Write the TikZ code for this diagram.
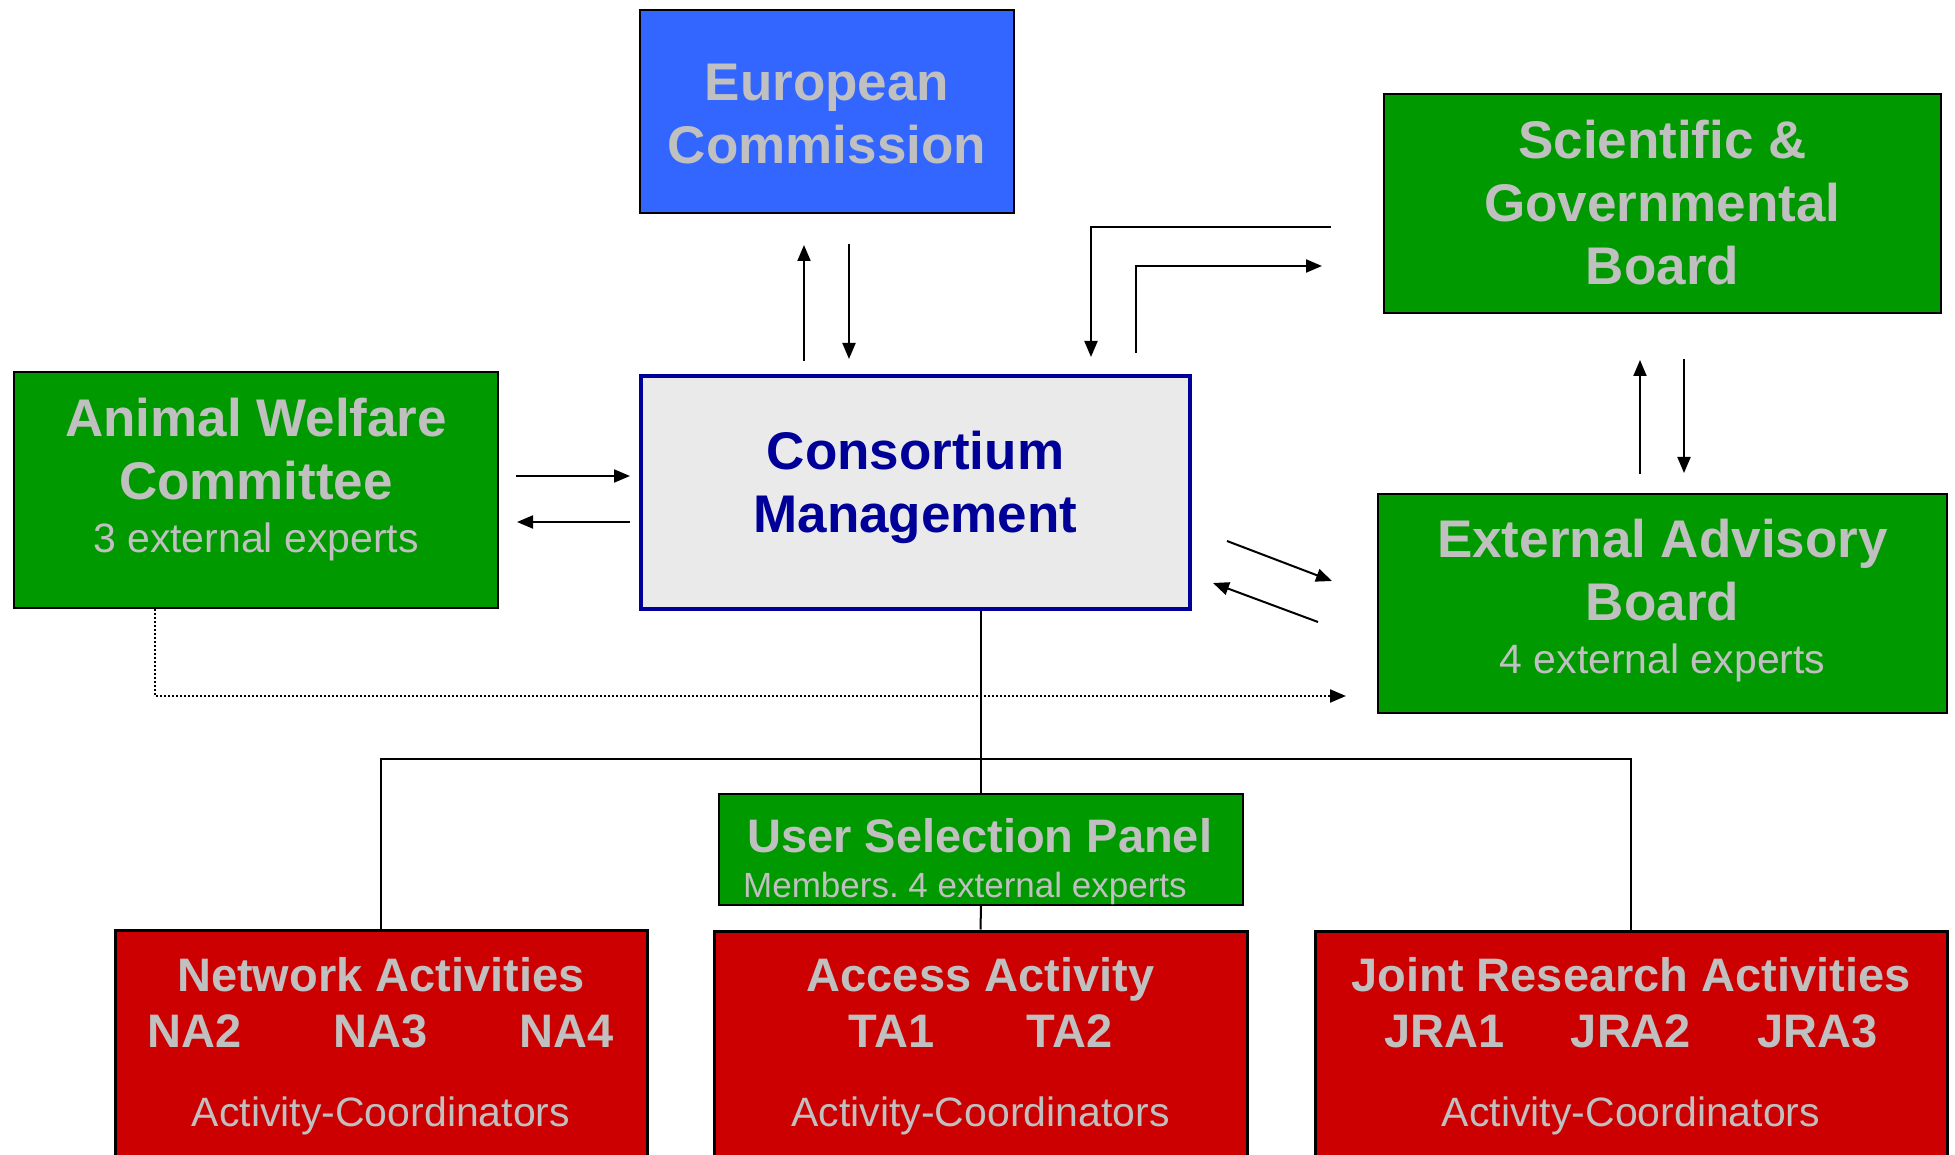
\documentclass[tikz,border=0pt]{standalone}
\usepackage{fontspec}
\setmainfont{Liberation Sans}
\usetikzlibrary{arrows.meta,calc}

\definecolor{labelgray}{HTML}{C0C0C0}
\definecolor{ecblue}{HTML}{3366FF}
\definecolor{boardgreen}{HTML}{009900}
\definecolor{actred}{HTML}{CC0000}
\definecolor{cmfill}{HTML}{EAEAEA}
\definecolor{cmblue}{HTML}{000099}

\begin{document}
\begin{tikzpicture}[x=1pt,y=-1pt,
  box/.style={draw=black,line width=2pt,inner sep=0pt},
  txt/.style={anchor=north,inner sep=0pt,align=center,text=labelgray,
    font=\fontsize{53}{63}\selectfont\bfseries},
  acttxt/.style={txt,font=\fontsize{47}{56}\selectfont\bfseries},
  flow/.style={line width=2pt,-{Triangle[length=16pt,width=13pt]}},
  dotflow/.style={flow,dash pattern=on 2pt off 2pt},
  link/.style={line width=2pt}]

\clip (0,0) rectangle (1955,1155);
\fill[white] (0,0) rectangle (1955,1155);

\node[box,fill=ecblue,minimum width=374pt,minimum height=203pt] (ec) at (827,111.5) {};
\node[txt] (ectext) at (827,64) {European\\Commission};

\node[box,fill=boardgreen,minimum width=557pt,minimum height=219pt] (sgb) at (1662.5,203.5) {};
\node[txt] (sgbtext) at (1662.5,119.5) {Scientific \&\\Governmental\\Board};

\node[box,fill=boardgreen,minimum width=484pt,minimum height=236pt] (awc) at (256,490) {};
\node[txt] (awctext) at (256,398) {Animal Welfare\\Committee\\[-10pt]{\mdseries\fontsize{41}{48}\selectfont 3 external experts}};

\node[box,draw=cmblue,line width=4pt,fill=cmfill,minimum width=549pt,minimum height=233pt] (cm) at (915.5,492.5) {};
\node[txt,text=cmblue] (cmtext) at (915.5,430.5) {Consortium\\Management};

\node[box,fill=boardgreen,minimum width=569pt,minimum height=219pt] (eab) at (1662.5,603.5) {};
\node[txt] (eabtext) at (1662.5,519) {External Advisory\\Board\\[-10pt]{\mdseries\fontsize{41}{48}\selectfont 4 external experts}};

\node[box,fill=boardgreen,minimum width=524pt,minimum height=111pt] (usp) at (981,849.5) {};
\node[acttxt,anchor=north west,align=left] (usptext) at (743,818.5) {\hspace*{4pt}User Selection Panel\\[-11pt]{\mdseries\fontsize{35}{42}\selectfont Members.\ 4 external experts}};

\node[box,line width=3pt,fill=actred,minimum width=532pt,minimum height=270pt] (na) at (381,1065) {};
\node[acttxt] (natext) at (381,957.5) {Network Activities\\\makebox[186pt]{NA2}\makebox[186pt]{NA3}\makebox[186pt]{NA4}\\[23pt]{\mdseries\fontsize{41}{48}\selectfont Activity-Coordinators}};

\node[box,line width=3pt,fill=actred,minimum width=533pt,minimum height=270pt] (aa) at (980.5,1066) {};
\node[acttxt] (aatext) at (980.5,957.5) {Access Activity\\\makebox[178pt]{TA1}\makebox[178pt]{TA2}\\[23pt]{\mdseries\fontsize{41}{48}\selectfont Activity-Coordinators}};

\node[box,line width=3pt,fill=actred,minimum width=632pt,minimum height=270pt] (jra) at (1631,1066) {};
\node[acttxt] (jratext) at (1631,957.5) {Joint Research Activities\\\makebox[186.5pt]{JRA1}\makebox[186.5pt]{JRA2}\makebox[186.5pt]{JRA3}\\[23pt]{\mdseries\fontsize{41}{48}\selectfont Activity-Coordinators}};

\draw[flow,shorten <=13pt,shorten >=31pt] (804,0 |- cm.north) -- (804,0 |- ec.south);
\draw[flow,shorten <=30pt,shorten >=15pt] (849,0 |- ec.south) -- (849,0 |- cm.north);

\draw[flow,shorten <=52pt,shorten >=17pt] (sgb.west |- 0,227) -| (1091,0 |- cm.north);
\draw[flow,shorten <=21pt,shorten >=61pt] (1136,0 |- cm.north) |- (sgb.west |- 0,266);

\draw[flow,shorten <=19pt,shorten >=46pt] (1640,0 |- eab.north) -- (1640,0 |- sgb.south);
\draw[flow,shorten <=45pt,shorten >=20pt] (1684,0 |- sgb.south) -- (1684,0 |- eab.north);

\draw[flow,shorten <=17pt,shorten >=9pt] (awc.east |- 0,476) -- (cm.west |- 0,476);
\draw[flow,shorten <=9pt,shorten >=18pt] (cm.west |- 0,522) -- (awc.east |- 0,522);

\draw[flow] ($(cm.east)+(35,48.5)$) -- ($(eab.west)+(-45,-22.5)$);
\draw[flow] ($(eab.west)+(-59,18.5)$) -- ($(cm.east)+(21,90.5)$);

\draw[dotflow,shorten >=31pt] (155,0 |- awc.south) |- (eab.west |- 0,696);

\draw[link] (usp.north |- cm.south) -- (usp.north);
\draw[link] (usp.south) -- (aa.north);
\draw[link] (na.north) |- (jra.north |- 0,759) -- (jra.north);

\end{tikzpicture}
\end{document}
